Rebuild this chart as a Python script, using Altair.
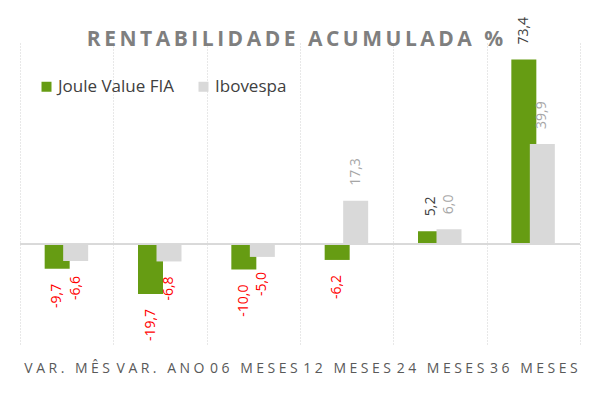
import altair as alt
import pandas as pd

categories = ["VAR. MÊS", "VAR. ANO", "06 MESES", "12 MESES", "24 MESES", "36 MESES"]
joule_values = [-9.7, -19.7, -10.0, -6.2, 5.2, 73.4]
ibov_values = [-6.6, -6.8, -5.0, 17.3, 6.0, 39.9]
series_names = ["Joule Value FIA", "Ibovespa"]
series_colors = ["#669c13", "#d9d9d9"]

rows = []
for c, v in zip(categories, joule_values):
    rows.append({"cat": c, "series": series_names[0], "value": v})
for c, v in zip(categories, ibov_values):
    rows.append({"cat": c, "series": series_names[1], "value": v})
df = pd.DataFrame(rows)

FONT = "Open Sans"
SP = "\u2006"
title_text = SP.join(list("RENTABILIDADE ACUMULADA %"))

base = alt.Chart(df).transform_calculate(
    label="replace(replace(format(datum.value, '.1f'), '.', ','), '\u2212', '-')"
)

y_scale = alt.Scale(domain=[-40, 80], nice=False, zero=False)

x_enc = alt.X(
    "cat:N",
    sort=categories,
    scale=alt.Scale(paddingInner=0, paddingOuter=0),
    axis=alt.Axis(
        title=None,
        domain=False,
        ticks=False,
        grid=True,
        gridDash=[1, 2],
        gridColor="#d0d0d0",
        gridWidth=1,
        tickBand="extent",
        labelAngle=0,
        labelFont=FONT,
        labelFontSize=14,
        labelColor="#595959",
        labelPadding=16,
        labelExpr="join(split(datum.label, ''), '\u2005')",
    ),
)
y_enc = alt.Y("value:Q", scale=y_scale, axis=None)
color_enc = alt.Color(
    "series:N",
    scale=alt.Scale(domain=series_names, range=series_colors),
    legend=alt.Legend(
        title=None,
        orient="none",
        legendX=18,
        legendY=35,
        direction="horizontal",
        symbolType="square",
        symbolSize=100,
        symbolStrokeWidth=0,
        symbolOpacity=1,
        labelFont=FONT,
        labelFontSize=17,
        labelColor="#404040",
        labelOffset=3,
        columnPadding=20,
    ),
)

bar_j = base.transform_filter(alt.datum.series == series_names[0]).mark_bar(
    width=25, xOffset=-9.5
).encode(x=x_enc, y=y_enc, y2=alt.Y2Datum(0), color=color_enc)
bar_i = base.transform_filter(alt.datum.series == series_names[1]).mark_bar(
    width=25, xOffset=9
).encode(x=x_enc, y=y_enc, y2=alt.Y2Datum(0), color=color_enc)

zero = base.mark_rule(color="#d9d9d9", strokeWidth=1.5).encode(
    y=alt.YDatum(0, scale=y_scale, axis=None)
)


def lab(series, positive, off, color):
    cond = (alt.datum.value >= 0) if positive else (alt.datum.value < 0)
    return base.transform_filter(alt.datum.series == series).transform_filter(cond).mark_text(
        angle=270,
        align="left" if positive else "right",
        baseline="middle",
        dx=15 if positive else -15,
        xOffset=off,
        font=FONT,
        fontSize=14,
        color=color,
    ).encode(x=x_enc, y=y_enc, text="label:N")


labels = [
    lab(series_names[0], True, -9.5, "#404040"),
    lab(series_names[0], False, -9.5, "#ff0000"),
    lab(series_names[1], True, 9, "#a6a6a6"),
    lab(series_names[1], False, 9, "#ff0000"),
]

chart = alt.layer(bar_j, bar_i, zero, *labels).properties(
    width=560,
    height=302,
    autosize=alt.AutoSizeParams(type="none"),
    padding={"left": 20, "top": 43, "right": 10, "bottom": 55},
    title=alt.TitleParams(
        text=title_text,
        font=FONT,
        fontSize=21,
        fontWeight="bold",
        color="#7f7f7f",
        anchor="middle",
        offset=-33,
        dx=-5,
    ),
).configure_view(stroke=None)

chart.save("out.html", embed_options={"renderer": "svg", "actions": False})
